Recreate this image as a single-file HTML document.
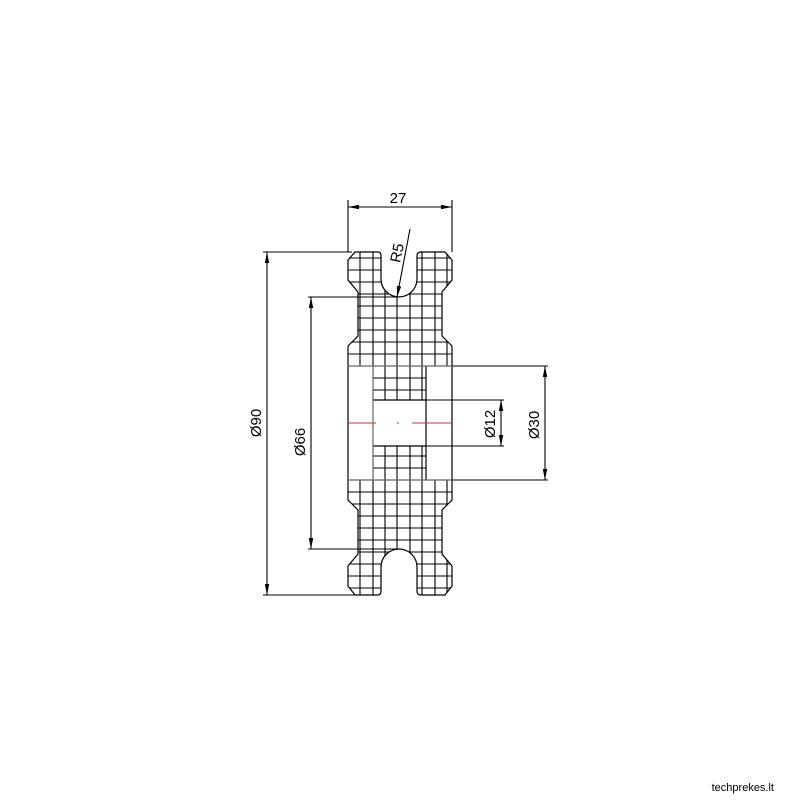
<!DOCTYPE html>
<html><head><meta charset="utf-8"><style>
html,body{margin:0;padding:0;background:#fff;}
svg{display:block;}
text{font-family:"Liberation Sans","DejaVu Sans",sans-serif;font-size:15px;fill:#000;}
</style></head><body>
<svg width="800" height="800" viewBox="0 0 800 800" xmlns="http://www.w3.org/2000/svg">
<defs>
<marker id="a" viewBox="0 0 10 4" refX="10" refY="2" markerWidth="11" markerHeight="4.5" orient="auto-start-reverse" markerUnits="userSpaceOnUse"><path d="M0,0 L10,2 L0,4z" fill="#000"/></marker>
<clipPath id="c"><path id="o" d="M355,252 L378,252 Q381,252 381,256 L381,279 A18,18 0 0 0 417,279 L417,256 Q417,252 421,252 L445,252 L452,260 L452,280 L442,292 L442,336 L452,346 L452,500 L442,510 L442,554 L452,566 L452,586 L445,595 L421,595 Q417,595 417,591 L417,567 A18,18 0 0 0 381,567 L381,591 Q381,595 378,595 L355,595 L348,586 L348,566 L358,554 L358,510 L348,500 L348,346 L358,336 L358,292 L348,280 L348,260 Z"/></clipPath>
</defs>
<g clip-path="url(#c)" stroke="#000" stroke-width="1.1">
<line x1="360" y1="240" x2="360" y2="610"/><line x1="373" y1="240" x2="373" y2="610"/><line x1="385" y1="240" x2="385" y2="610"/><line x1="397" y1="240" x2="397" y2="610"/><line x1="410" y1="240" x2="410" y2="610"/><line x1="422" y1="240" x2="422" y2="610"/><line x1="435" y1="240" x2="435" y2="610"/><line x1="447" y1="240" x2="447" y2="610"/>
<line x1="340" y1="258" x2="460" y2="258"/><line x1="340" y1="270" x2="460" y2="270"/><line x1="340" y1="282" x2="460" y2="282"/><line x1="340" y1="294" x2="460" y2="294"/><line x1="340" y1="306" x2="460" y2="306"/><line x1="340" y1="318" x2="460" y2="318"/><line x1="340" y1="330" x2="460" y2="330"/><line x1="340" y1="342" x2="460" y2="342"/><line x1="340" y1="354" x2="460" y2="354"/><line x1="340" y1="378" x2="460" y2="378"/><line x1="340" y1="390" x2="460" y2="390"/>
<line x1="340" y1="456" x2="460" y2="456"/><line x1="340" y1="468" x2="460" y2="468"/><line x1="340" y1="492" x2="460" y2="492"/><line x1="340" y1="504" x2="460" y2="504"/><line x1="340" y1="516" x2="460" y2="516"/><line x1="340" y1="528" x2="460" y2="528"/><line x1="340" y1="540" x2="460" y2="540"/><line x1="340" y1="552" x2="460" y2="552"/><line x1="340" y1="564" x2="460" y2="564"/><line x1="340" y1="576" x2="460" y2="576"/><line x1="340" y1="588" x2="460" y2="588"/>
</g>
<rect x="348.5" y="366" width="24.5" height="114" fill="#fff"/>
<rect x="426" y="366" width="25.5" height="114" fill="#fff"/>
<rect x="373" y="400" width="53" height="46" fill="#fff"/>
<g fill="none" stroke="#000" stroke-width="1.2">
<use href="#o"/>
<path d="M373,400 H426 M426,366 V480 M373,446 H426"/>
<line x1="348" y1="366" x2="452" y2="366" stroke="#666"/>
<line x1="348" y1="480" x2="452" y2="480" stroke="#666"/>
<line x1="373" y1="366" x2="373" y2="480" stroke="#666"/>
</g>
<g stroke="#c33" stroke-width="1"><line x1="348" y1="423" x2="376" y2="423"/><line x1="397" y1="423" x2="399" y2="423"/><line x1="412" y1="423" x2="452" y2="423"/></g>
<g stroke="#000" stroke-width="1.1" fill="none">
<line x1="348" y1="200" x2="348" y2="252"/><line x1="452" y1="200" x2="452" y2="252"/>
<line x1="348" y1="207" x2="452" y2="207" marker-start="url(#a)" marker-end="url(#a)"/>
<line x1="263" y1="252" x2="352" y2="252"/><line x1="263" y1="595" x2="355" y2="595"/>
<line x1="267" y1="252" x2="267" y2="595" marker-start="url(#a)" marker-end="url(#a)"/>
<line x1="308" y1="297" x2="399" y2="297"/><line x1="308" y1="549" x2="399" y2="549"/>
<line x1="311" y1="297" x2="311" y2="549" marker-start="url(#a)" marker-end="url(#a)"/>
<line x1="426" y1="400" x2="504" y2="400"/><line x1="426" y1="446" x2="504" y2="446"/>
<line x1="501" y1="400" x2="501" y2="446" marker-start="url(#a)" marker-end="url(#a)"/>
<line x1="452" y1="366" x2="548" y2="366"/><line x1="452" y1="480" x2="548" y2="480"/>
<line x1="545" y1="366" x2="545" y2="480" marker-start="url(#a)" marker-end="url(#a)"/>
<line x1="410" y1="229" x2="397" y2="297" marker-end="url(#a)"/>
</g>
<text x="398" y="203" text-anchor="middle">27</text>
<text transform="translate(261,423) rotate(-90)" text-anchor="middle">Ø90</text>
<text transform="translate(305,442) rotate(-90)" text-anchor="middle">Ø66</text>
<text transform="translate(495,424) rotate(-90)" text-anchor="middle">Ø12</text>
<text transform="translate(539,425) rotate(-90)" text-anchor="middle">Ø30</text>
<text transform="translate(402,254) rotate(-78)" text-anchor="middle">R5</text>
<text x="774" y="791" text-anchor="end" style="font-size:11px">techprekes.lt</text>
</svg>
</body></html>
